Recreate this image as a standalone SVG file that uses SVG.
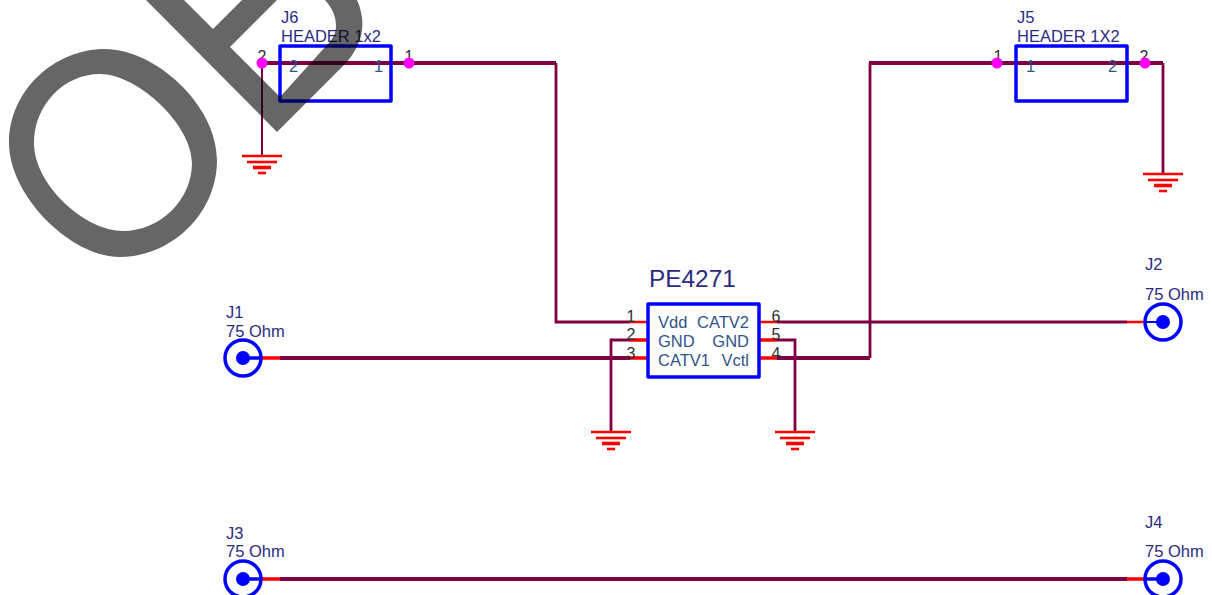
<svg xmlns="http://www.w3.org/2000/svg" width="1212" height="595" viewBox="0 0 1212 595">
<style>
text{font-family:"Liberation Sans",Arial,sans-serif;font-size:16.500px;fill:#2b2b80}
.pn{fill:#2f2f2f;font-size:16px;text-anchor:middle}
.in{fill:#2f5488;font-size:16.500px}
.box{fill:none;stroke:#0000ff;stroke-width:3.500;stroke-linejoin:round}
.w{fill:none;stroke:#7f0040;stroke-width:4}
.m{fill:none;stroke:#7f0040;stroke-width:2.800}
.t{fill:none;stroke:#7f0040;stroke-width:2}
.r{fill:none;stroke:#ff0000;stroke-width:3.500}
.rt{fill:none;stroke:#ff0000;stroke-width:2.500}
.d{fill:#ff00ff}
.bl{fill:none;stroke:#0000ff;stroke-width:3.500}
.bd{fill:#0000ff}
</style>
<defs>
<g id="gnd" fill="none" stroke="#ff0000">
<path d="M-20,0H20" stroke-width="2.600"/>
<path d="M-15,6H15" stroke-width="2.600"/>
<path d="M-9,11.500H9" stroke-width="3.600"/>
<path d="M-4,17H4" stroke-width="2.600"/>
</g>
<g id="coax">
<circle r="18" class="bl"/>
<circle r="7" class="bd"/>
</g>
</defs>
<g id="connectors">
<path class="t" d="M262,63V156"/>
<path class="w" d="M262,63H556"/>
<path class="m" d="M556,63V322H630"/>
<path class="m" d="M630,340H611V432"/>
<path class="w" d="M280,358H630"/>
<path class="m" d="M777,340H795V432"/>
<path class="w" d="M777,358H870"/>
<path class="m" d="M870,358V63"/>
<path class="w" d="M869,63H1163"/>
<path class="m" d="M777,322H1127"/>
<path class="m" d="M1163,63V174"/>
<path class="w" d="M280,579H1127"/>
<path class="rt" d="M630,322H648M759,322H777M1127,322H1145"/>
<path class="r" d="M630,340H648M630,358H648M759,340H777M759,358H777M262,358H280M262,579H280M1127,579H1145"/>
</g>
<g id="J6">
<rect class="box" x="280" y="46" width="111" height="55"/>
<text x="281" y="23">J6</text>
<text x="281" y="41.500">HEADER 1x2</text>
<text class="in" x="289" y="72">2</text>
<text class="in" x="374" y="72">1</text>
<text class="pn" x="262" y="62">2</text>
<text class="pn" x="409" y="62">1</text>
<circle class="d" cx="262" cy="63" r="5.500"/>
<circle class="d" cx="409" cy="63" r="5.500"/>
</g>
<g id="J5">
<rect class="box" x="1016" y="46" width="111" height="55"/>
<text x="1017" y="41.500">HEADER 1X2</text>
<text x="1017" y="23">J5</text>
<text class="in" x="1026" y="72">1</text>
<text class="in" x="1108" y="72">2</text>
<text class="pn" x="998" y="62">1</text>
<text class="pn" x="1144" y="62">2</text>
<circle class="d" cx="997" cy="63" r="5.500"/>
<circle class="d" cx="1145" cy="63" r="5.500"/>
</g>
<g id="U1">
<rect class="box" x="648" y="304" width="111" height="73"/>
<text x="649" y="287" style="font-size:24.400px">PE4271</text>
<text class="in" x="658" y="328">Vdd</text>
<text class="in" x="749" y="328" text-anchor="end">CATV2</text>
<text class="in" x="658" y="347">GND</text>
<text class="in" x="749" y="347" text-anchor="end">GND</text>
<text class="in" x="658" y="366">CATV1</text>
<text class="in" x="749" y="366" text-anchor="end">Vctl</text>
<text class="pn" x="631" y="322">1</text>
<text class="pn" x="631" y="340">2</text>
<text class="pn" x="631" y="359">3</text>
<text class="pn" x="776" y="322">6</text>
<text class="pn" x="776" y="340">5</text>
<text class="pn" x="776" y="359">4</text>
</g>
<g id="J1">
<use href="#coax" x="243" y="358"/>
<path class="bl" d="M243,358H262"/>
<text x="226" y="318">J1</text>
<text x="226" y="337">75 Ohm</text>
</g>
<g id="J2">
<use href="#coax" x="1163" y="322"/>
<path class="bl" d="M1145,322H1163" style="stroke-width:2"/>
<text x="1145" y="270">J2</text>
<text x="1145" y="300">75 Ohm</text>
</g>
<g id="J3">
<use href="#coax" x="243" y="579"/>
<path class="bl" d="M243,579H262"/>
<text x="226" y="539">J3</text>
<text x="226" y="557">75 Ohm</text>
</g>
<g id="J4">
<use href="#coax" x="1163" y="579"/>
<path class="bl" d="M1145,579H1163"/>
<text x="1145" y="528">J4</text>
<text x="1145" y="557">75 Ohm</text>
</g>
<g id="GND1"><use href="#gnd" x="262" y="156"/></g>
<g id="GND2"><use href="#gnd" x="611" y="432"/></g>
<g id="GND3"><use href="#gnd" x="795" y="432"/></g>
<g id="GND4"><use href="#gnd" x="1163" y="174"/></g>
<g id="watermark" fill="#000" fill-opacity="0.6">
<path fill-rule="evenodd" d="M105,49C155,49 217,105 217,160C217,215 170,257 120,257C70,257 9,195 9,143C9,90 55,49 105,49ZM100,74C64,74 34,105 34,143C34,185 85,231 123,231C160,231 192,200 192,163C192,125 138,74 100,74Z"/>
<path fill-rule="evenodd" d="M146,0L277,132L345,64C358,50 364,34 362,18C361,10 359,4 357,0L325,0C332,8 336,16 336,26C336,34 332,40 326,46L280,97L230,47L277,0L242,0L213,29L184,0Z"/>
</g>
</svg>
